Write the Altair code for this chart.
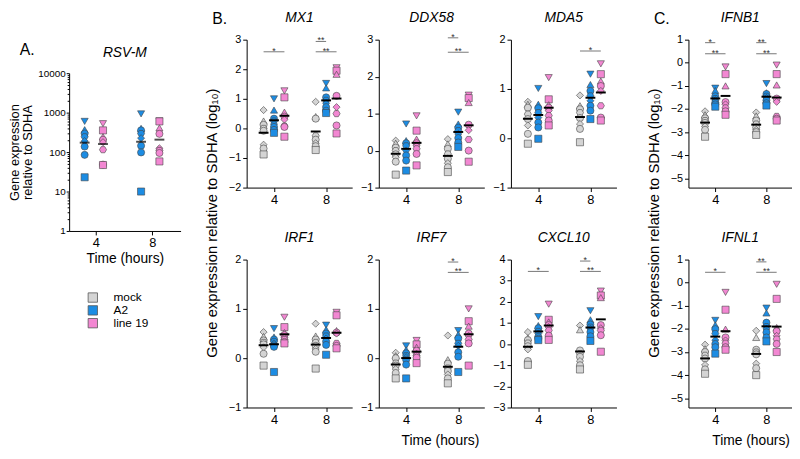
import altair as alt
import pandas as pd

GROUPS = ["mock", "A2", "line 19"]
COLORS = ["#D4D4D4", "#1C8CE3", "#F287D2"]
TIMES = [4, 8]
FONT = "Liberation Sans"

# ---- Panel A: RSV-M (linear values, log axis) ----
RSVM_A2 = [[600, 370, 295, 245, 190, 138, 85, 23], [930, 400, 355, 295, 225, 145, 98, 10]]
RSVM_L19 = [[525, 355, 245, 205, 178, 115, 48, 47], [620, 600, 410, 290, 125, 110, 95, 58]]

# ---- Panel B / C: log10 values, [time 4, time 8] ----
MX1_MOCK = [[0.62, 0.25, 0.12, 0.0, -0.08, -0.55, -0.68, -0.88], [0.9, 0.4, 0.33, -0.25, -0.38, -0.5, -0.6, -0.73]]
MX1_A2 = [[1.0, 0.62, 0.33, 0.25, 0.15, 0.05, -0.05, -0.15], [1.52, 1.37, 1.05, 0.95, 0.85, 0.72, 0.6, 0.52]]
MX1_L19 = [[1.27, 1.05, 0.55, 0.4, 0.3, 0.08, 0.05, -0.28], [2.05, 1.95, 1.83, 1.1, 0.72, 0.5, 0.1, -0.17]]

DDX58_MOCK = [[0.27, 0.2, 0.08, 0.0, -0.1, -0.18, -0.3, -0.65], [0.31, 0.18, 0.05, -0.09, -0.22, -0.34, -0.45, -0.58]]
DDX58_A2 = [[0.72, 0.27, 0.2, 0.13, 0.0, -0.13, -0.27, -0.54], [1.04, 0.72, 0.62, 0.54, 0.45, 0.34, 0.22, 0.1]]
DDX58_L19 = [[0.94, 0.54, 0.31, 0.2, 0.13, 0.05, -0.09, -0.4], [1.5, 1.42, 1.3, 0.7, 0.55, 0.3, 0.0, -0.3]]

MDA5_MOCK = [[0.74, 0.69, 0.62, 0.49, 0.39, 0.26, 0.09, -0.11], [0.87, 0.66, 0.59, 0.52, 0.41, 0.29, 0.19, -0.08]]
MDA5_A2 = [[1.01, 0.69, 0.61, 0.52, 0.42, 0.32, 0.22, -0.01], [1.3, 1.09, 0.96, 0.86, 0.76, 0.66, 0.56, 0.39]]
MDA5_L19 = [[1.23, 0.79, 0.68, 0.62, 0.56, 0.46, 0.36, 0.26], [1.51, 1.3, 1.16, 1.06, 0.96, 0.66, 0.42, 0.36]]

IRF1_MOCK = [[0.53, 0.44, 0.36, 0.32, 0.28, 0.22, 0.09, -0.15], [0.7, 0.45, 0.38, 0.32, 0.25, 0.19, 0.13, -0.21]]
IRF1_A2 = [[0.6, 0.43, 0.38, 0.34, 0.3, 0.26, 0.23, -0.28], [0.67, 0.58, 0.5, 0.45, 0.4, 0.34, 0.27, 0.07]]
IRF1_L19 = [[0.83, 0.63, 0.52, 0.47, 0.42, 0.38, 0.33, 0.3], [0.93, 0.87, 0.56, 0.52, 0.5, 0.3, 0.25, 0.2]]

IRF7_MOCK = [[0.11, 0.05, 0.0, -0.1, -0.15, -0.22, -0.3, -0.41], [0.46, -0.03, -0.11, -0.2, -0.26, -0.33, -0.41, -0.51]]
IRF7_A2 = [[0.25, 0.17, 0.1, 0.05, 0.02, -0.03, -0.13, -0.41], [0.56, 0.48, 0.4, 0.3, 0.25, 0.12, 0.03, -0.28]]
IRF7_L19 = [[0.36, 0.28, 0.22, 0.15, 0.09, 0.05, 0.01, -0.1], [1.0, 0.75, 0.65, 0.5, 0.45, 0.38, 0.3, -0.15]]

CXCL10_MOCK = [[0.57, 0.3, 0.19, 0.05, -0.1, -0.25, -0.8, -0.98], [0.88, 0.68, -0.3, -0.45, -0.6, -0.8, -1.0, -1.2]]
CXCL10_A2 = [[1.3, 0.88, 0.75, 0.6, 0.5, 0.34, 0.25, 0.19], [1.58, 1.15, 0.93, 0.8, 0.73, 0.57, 0.37, 0.15]]
CXCL10_L19 = [[1.89, 1.15, 1.05, 0.9, 0.8, 0.65, 0.4, 0.2], [2.51, 2.3, 2.2, 0.9, 0.75, 0.65, 0.42, -0.36]]

IFNB1_MOCK = [[-2.1, -2.25, -2.4, -2.5, -2.6, -2.75, -2.9, -3.2], [-2.15, -2.3, -2.5, -2.65, -2.8, -2.9, -3.0, -3.12]]
IFNB1_A2 = [[-1.1, -1.2, -1.45, -1.55, -1.62, -1.72, -1.8, -1.9], [-0.9, -1.3, -1.35, -1.45, -1.52, -1.62, -1.75, -1.85]]
IFNB1_L19 = [[-0.18, -0.49, -1.0, -1.7, -1.8, -1.95, -2.1, -2.25], [-0.1, -0.49, -0.96, -1.55, -1.69, -2.32, -2.42, -2.5]]

IFNL1_MOCK = [[-2.68, -2.86, -3.0, -3.14, -3.28, -3.56, -3.75, -3.94], [-2.08, -2.37, -2.9, -3.0, -3.1, -3.5, -3.7, -4.0]]
IFNL1_A2 = [[-1.63, -1.83, -2.01, -2.2, -2.48, -2.65, -2.79, -3.07], [-1.1, -1.31, -1.73, -1.9, -2.0, -2.15, -2.37, -2.54]]
IFNL1_L19 = [[-0.42, -1.17, -2.01, -2.37, -2.5, -2.62, -2.79, -2.9], [-0.07, -0.7, -1.94, -2.1, -2.3, -2.44, -2.65, -3.0]]

# significance bars: (time, from group, to group, y, label)
MX1_STARS = [(4, "mock", "line 19", 2.59, "*"), (8, "mock", "A2", 2.94, "**"), (8, "mock", "line 19", 2.59, "**")]
DDX58_STARS = [(8, "mock", "A2", 3.05, "*"), (8, "mock", "line 19", 2.66, "**")]
MDA5_STARS = [(8, "mock", "line 19", 1.77, "*")]
IRF1_STARS = []
IRF7_STARS = [(8, "mock", "A2", 1.95, "*"), (8, "mock", "line 19", 1.74, "**")]
CXCL10_STARS = [(4, "mock", "line 19", 3.44, "*"), (8, "mock", "A2", 3.93, "*"), (8, "mock", "line 19", 3.44, "**")]
IFNB1_STARS = [(4, "mock", "A2", 0.87, "*"), (4, "mock", "line 19", 0.39, "**"),
               (8, "mock", "A2", 0.87, "**"), (8, "mock", "line 19", 0.39, "**")]
IFNL1_STARS = [(4, "mock", "line 19", 0.45, "*"), (8, "mock", "A2", 0.9, "**"), (8, "mock", "line 19", 0.45, "**")]

# ---- styling helpers ----
OFFSET = {"mock": -0.8, "A2": 0.0, "line 19": 0.8}
OFFSET_A = {"A2": -0.8, "line 19": 0.5}
HEX = "M-1,0L-0.5,-0.866L0.5,-0.866L1,0L0.5,0.866L-0.5,0.866Z"
SHAPE_ORDER = {
    "mock": ["diamond", "triangle-up", "circle", HEX, "circle", "diamond", "circle", "square"],
    "A2": ["triangle-down", "triangle-up", "circle", HEX, "diamond", "circle", "circle", "square"],
    "line 19": ["triangle-down", "square", "triangle-up", "circle", "diamond", HEX, "circle", "square"],
}
CSCALE = alt.Scale(domain=GROUPS, range=COLORS)
ONE = pd.DataFrame({"k": [0]})


def make_points(series_by_group, offsets):
    rows = []
    for g, series in series_by_group:
        for ti, t in enumerate(TIMES):
            for i, v in enumerate(series[ti]):
                rows.append({"g": g, "t": t, "x": t + offsets[g], "v": v, "s": SHAPE_ORDER[g][i]})
    return pd.DataFrame(rows)


def make_stars(stars):
    rows = []
    for t, g1, g2, y, lab in stars:
        x1, x2 = t + OFFSET[g1], t + OFFSET[g2]
        rows.append({"x1": x1, "x2": x2, "xm": (x1 + x2) / 2, "y": y, "lab": lab})
    return pd.DataFrame(rows)


def x_axis(xtitle=None, title_x=None, pad=8):
    kw = dict(values=[4, 8], format="d", labelFontSize=13, tickSize=4, labelPadding=2, grid=False)
    if xtitle:
        kw.update(title=xtitle, titleFontSize=14, titlePadding=pad, titleFontWeight="normal")
        if title_x is not None:
            kw["titleX"] = title_x
    else:
        kw["title"] = None
    return alt.Axis(**kw)


def title_layer(name, w, y):
    return alt.Chart(ONE).mark_text(text=name, fontSize=14, fontStyle="italic").encode(
        x=alt.value(w / 2), y=alt.value(y))


def panel(name, mock, a2, l19, ydom, yvals, stars, xtitle=None, title_x=None, w=107, h=150):
    df = make_points([("mock", mock), ("A2", a2), ("line 19", l19)], OFFSET)
    xs = alt.Scale(domain=[1.9, 10], nice=False, zero=False)
    ys = alt.Scale(domain=ydom, nice=False, zero=False)
    xax = x_axis(xtitle, title_x)
    yax = alt.Axis(values=yvals, format="d", title=None, labelFontSize=11, tickSize=4, labelPadding=2, grid=False)
    pts = alt.Chart(df).mark_point(filled=True, size=52, opacity=1, stroke="#444", strokeWidth=0.6).encode(
        x=alt.X("x:Q", scale=xs, axis=xax),
        y=alt.Y("v:Q", scale=ys, axis=yax),
        color=alt.Color("g:N", scale=CSCALE, legend=None),
        shape=alt.Shape("s:N", scale=None),
    )
    means = alt.Chart(df).mark_tick(orient="horizontal", color="black", thickness=2, size=10).encode(
        x=alt.X("x:Q", scale=xs, axis=xax),
        y=alt.Y("mean(v):Q", scale=ys, axis=yax),
    )
    layers = [pts, means]
    if stars:
        sd = make_stars(stars)
        layers.append(alt.Chart(sd).mark_rule(color="#777", strokeWidth=1).encode(
            x=alt.X("x1:Q", scale=xs, axis=xax), x2="x2:Q", y=alt.Y("y:Q", scale=ys, axis=yax)))
        layers.append(alt.Chart(sd).mark_text(fontSize=9, baseline="alphabetic", dy=2, color="#333").encode(
            x=alt.X("xm:Q", scale=xs, axis=xax), y=alt.Y("y:Q", scale=ys, axis=yax), text="lab:N"))
    layers.append(title_layer(name, w, -22))
    return alt.layer(*layers).properties(width=w, height=h)


def panel_a():
    df = make_points([("A2", RSVM_A2), ("line 19", RSVM_L19)], OFFSET_A)
    xs = alt.Scale(domain=[2.1, 10], nice=False, zero=False)
    ys = alt.Scale(type="log", domain=[1, 10000], nice=False)
    xax = x_axis("Time (hours)", pad=2)
    yax = alt.Axis(values=[1, 10, 100, 1000, 10000], format="d", title=["Gene expression", "relative to SDHA"],
                   titleFontSize=13, titleLineHeight=14, titlePadding=3, titleFontWeight="normal",
                   labelFontSize=10, tickSize=3, labelPadding=1, grid=False, orient="left")
    minor = [m * 10 ** e for e in range(4) for m in range(2, 10)]
    yminor = alt.Axis(values=minor, labels=False, domain=False, tickSize=2, title=None, grid=False, orient="left")
    pts = alt.Chart(df).mark_point(filled=True, size=52, opacity=1, stroke="#444", strokeWidth=0.6).encode(
        x=alt.X("x:Q", scale=xs, axis=xax),
        y=alt.Y("v:Q", scale=ys, axis=yax),
        color=alt.Color("g:N", scale=CSCALE, legend=None),
        shape=alt.Shape("s:N", scale=None),
    )
    means = alt.Chart(df).transform_calculate(lv="log(datum.v)/LN10").transform_aggregate(
        mlv="mean(lv)", groupby=["x"]).transform_calculate(gm="pow(10, datum.mlv)").mark_tick(
        orient="horizontal", color="black", thickness=2, size=10).encode(
        x=alt.X("x:Q", scale=xs, axis=xax), y=alt.Y("gm:Q", scale=ys, axis=None))
    minor_layer = alt.Chart(df).mark_point(opacity=0).encode(
        x=alt.X("x:Q", scale=xs, axis=xax), y=alt.Y("v:Q", scale=ys, axis=yminor))
    return alt.layer(pts, means, minor_layer, title_layer("RSV-M", 113, -20)).resolve_axis(
        y="independent").properties(width=113, height=160)


spacer = alt.Chart(ONE).mark_text(text="A.", fontSize=16, align="left").encode(
    x=alt.value(-50), y=alt.value(11)).properties(width=113, height=34)

leg_df = pd.DataFrame({"g": GROUPS})
ly = alt.Y("g:N", sort=GROUPS, axis=None)
legend = alt.layer(
    alt.Chart(leg_df).mark_square(size=90, opacity=1, stroke="#555", strokeWidth=0.8).encode(
        x=alt.value(24), y=ly, color=alt.Color("g:N", scale=CSCALE, legend=None)),
    alt.Chart(leg_df).mark_text(align="left", fontSize=12).encode(x=alt.value(45), y=ly, text="g:N"),
).properties(width=113, height=39)

colA = alt.vconcat(alt.vconcat(spacer, panel_a(), spacing=0, bounds="flush"), legend, spacing=26)

YTITLE = "Gene expression relative to SDHA (log₁₀)"


def side_title(letter, tx, lx, w):
    return alt.layer(
        alt.Chart(ONE).mark_text(text=YTITLE, angle=270, fontSize=15).encode(x=alt.value(tx), y=alt.value(186)),
        alt.Chart(ONE).mark_text(text=letter, fontSize=16, align="left").encode(x=alt.value(lx), y=alt.value(-21)),
    ).properties(width=w, height=372)


ytB = side_title("B.", 32, 32, 43)
ytC = side_title("C.", 38, 38, 50)

rowB1 = alt.hconcat(
    panel("MX1", MX1_MOCK, MX1_A2, MX1_L19, [-2, 3], [-2, -1, 0, 1, 2, 3], MX1_STARS),
    panel("DDX58", DDX58_MOCK, DDX58_A2, DDX58_L19, [-1, 3], [-1, 0, 1, 2, 3], DDX58_STARS),
    panel("MDA5", MDA5_MOCK, MDA5_A2, MDA5_L19, [-1, 2], [-1, 0, 1, 2], MDA5_STARS),
    spacing=27, bounds="flush")
rowB2 = alt.hconcat(
    panel("IRF1", IRF1_MOCK, IRF1_A2, IRF1_L19, [-1, 2], [-1, 0, 1, 2], IRF1_STARS),
    panel("IRF7", IRF7_MOCK, IRF7_A2, IRF7_L19, [-1, 2], [-1, 0, 1, 2], IRF7_STARS,
          xtitle="Time (hours)", title_x=62),
    panel("CXCL10", CXCL10_MOCK, CXCL10_A2, CXCL10_L19, [-3, 4], [-3, -2, -1, 0, 1, 2, 3, 4], CXCL10_STARS),
    spacing=27, bounds="flush")
gridB = alt.vconcat(rowB1, rowB2, spacing=25)

gridC = alt.vconcat(
    panel("IFNB1", IFNB1_MOCK, IFNB1_A2, IFNB1_L19, [-5.4, 1], [-5, -4, -3, -2, -1, 0, 1], IFNB1_STARS, w=105),
    panel("IFNL1", IFNL1_MOCK, IFNL1_A2, IFNL1_L19, [-5.4, 1], [-5, -4, -3, -2, -1, 0, 1], IFNL1_STARS,
          xtitle="Time (hours)", title_x=63, w=105),
    spacing=73, bounds="flush")

chart = alt.hconcat(colA, ytB, gridB, ytC, gridC, spacing=0).properties(padding=0).configure_view(
    stroke=None).configure_axis(
    labelFont=FONT, titleFont=FONT, domainColor="black", tickColor="black", labelColor="black",
    titleColor="black", grid=False).configure_text(font=FONT)

chart.save("out.html", embed_options={"renderer": "svg", "actions": False})
